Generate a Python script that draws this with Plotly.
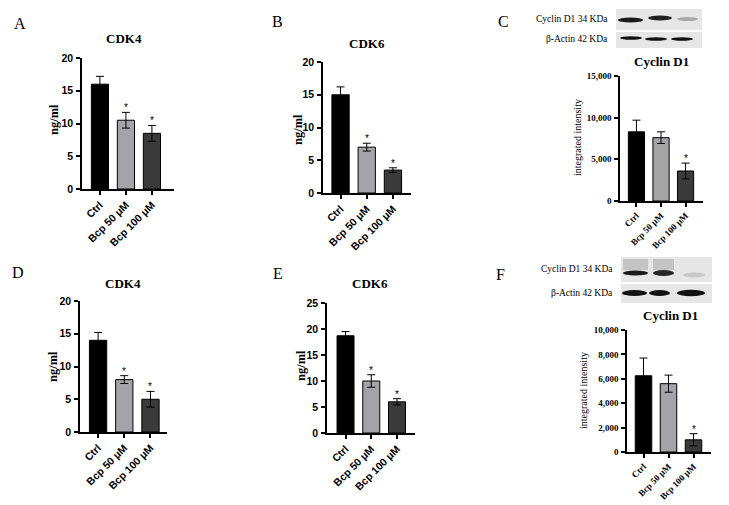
import plotly.graph_objects as go

# ---------------- data ----------------
categories = ["Ctrl", "Bcp 50 μM", "Bcp 100 μM"]

a_values = [16.0, 10.5, 8.5]
a_errors = [1.2, 1.2, 1.2]
a_stars = ["", "*", "*"]

b_values = [15.0, 7.0, 3.5]
b_errors = [1.2, 0.6, 0.35]
b_stars = ["", "*", "*"]

c_values = [8300, 7600, 3600]
c_errors = [1400, 700, 950]
c_stars = ["", "", "*"]

d_values = [14.0, 8.0, 5.0]
d_errors = [1.2, 0.6, 1.2]
d_stars = ["", "*", "*"]

e_values = [18.7, 10.0, 6.0]
e_errors = [0.8, 1.2, 0.6]
e_stars = ["", "*", "*"]

f_values = [6250, 5600, 1000]
f_errors = [1450, 700, 500]
f_stars = ["", "", "*"]

bar_colors = ["#000000", "#a4a4a8", "#3a3a3a"]

# ---------------- layout helpers ----------------
W, H = 729, 505
SANS = "Arial, Liberation Sans, sans-serif"
SERIF = "Times New Roman, Liberation Serif, serif"


def px(x):
    return x / W


def py(y):
    return 1 - y / H


panels = [
    dict(vals=a_values, err=a_errors, stars=a_stars, xd=(82, 174), yd=(58, 189), ymax=20, dtick=5,
         rng=(-0.69, 2.85), sans=True, title="CDK4", tpos=(124, 39), letter="A", lpos=(20, 23),
         ytitle="ng/ml", ytpos=(54, 120)),
    dict(vals=b_values, err=b_errors, stars=b_stars, xd=(323, 411), yd=(62, 193), ymax=20, dtick=5,
         rng=(-0.67, 2.69), sans=True, title="CDK6", tpos=(367, 44), letter="B", lpos=(277, 21),
         ytitle="ng/ml", ytpos=(298, 130)),
    dict(vals=c_values, err=c_errors, stars=c_stars, xd=(620, 703), yd=(76, 201), ymax=15000, dtick=5000,
         rng=(-0.67, 2.71), sans=False, title="Cyclin D1", tpos=(661, 61), letter="C", lpos=(503, 21),
         ytitle="integrated intensity", ytpos=(577, 138)),
    dict(vals=d_values, err=d_errors, stars=d_stars, xd=(80, 167), yd=(301, 432), ymax=20, dtick=5,
         rng=(-0.69, 2.63), sans=True, title="CDK4", tpos=(123, 283), letter="D", lpos=(18, 272),
         ytitle="ng/ml", ytpos=(53, 367)),
    dict(vals=e_values, err=e_errors, stars=e_stars, xd=(327, 415), yd=(303, 433), ymax=25, dtick=5,
         rng=(-0.72, 2.70), sans=True, title="CDK6", tpos=(370, 283), letter="E", lpos=(278, 273),
         ytitle="ng/ml", ytpos=(301, 366)),
    dict(vals=f_values, err=f_errors, stars=f_stars, xd=(627, 711), yd=(330, 452), ymax=10000, dtick=2000,
         rng=(-0.66, 2.70), sans=False, title="Cyclin D1", tpos=(670, 315), letter="F", lpos=(500, 274),
         ytitle="integrated intensity", ytpos=(583, 391)),
]

fig = go.Figure()
annotations = []
layout_axes = {}

for i, p in enumerate(panels, start=1):
    xa = "x" if i == 1 else f"x{i}"
    ya = "y" if i == 1 else f"y{i}"
    fig.add_trace(go.Bar(
        x=categories, y=p["vals"], xaxis=xa, yaxis=ya,
        marker=dict(color=bar_colors, line=dict(color="black", width=1)),
        width=0.66,
        error_y=dict(type="data", array=p["err"], color="black", thickness=1, width=4),
        showlegend=False, hoverinfo="x+y",
    ))
    if p["sans"]:
        tfont = dict(family=SANS, size=10.5, color="black", weight="bold")
    else:
        tfont = dict(family=SERIF, size=9, color="black", weight="bold")
    axis_common = dict(showline=True, linecolor="black", linewidth=1.5, ticks="outside",
                       ticklen=4, tickwidth=1.5, tickcolor="black", showgrid=False,
                       zeroline=False, tickfont=tfont, fixedrange=True, automargin=False)
    layout_axes["xaxis" if i == 1 else f"xaxis{i}"] = dict(
        domain=[px(p["xd"][0]), px(p["xd"][1])], anchor=ya, type="category",
        range=list(p["rng"]), tickangle=-45, **axis_common)
    layout_axes["yaxis" if i == 1 else f"yaxis{i}"] = dict(
        domain=[py(p["yd"][1]), py(p["yd"][0])], anchor=xa, range=[0, p["ymax"]],
        dtick=p["dtick"], tickformat="," if not p["sans"] else "", ticklabelstandoff=1,
        **axis_common)

    # significance stars
    for c, v, e, s in zip(categories, p["vals"], p["err"], p["stars"]):
        if s:
            annotations.append(dict(x=c, y=v + e, xref=xa, yref=ya, text=s, showarrow=False,
                                    yanchor="bottom", yshift=-3,
                                    font=dict(family=SANS, size=10, color="black")))
    # panel title
    annotations.append(dict(x=px(p["tpos"][0]), y=py(p["tpos"][1]), xref="paper", yref="paper",
                            text=p["title"], showarrow=False, xanchor="center", yanchor="middle",
                            font=dict(family=SERIF, size=13, color="black", weight="bold")))
    # panel letter
    annotations.append(dict(x=px(p["lpos"][0]), y=py(p["lpos"][1]), xref="paper", yref="paper",
                            text=p["letter"], showarrow=False, xanchor="center", yanchor="middle",
                            font=dict(family=SERIF, size=16, color="black")))
    # y-axis title
    if p["sans"]:
        yfont = dict(family=SERIF, size=12.5, color="black", weight="bold")
    else:
        yfont = dict(family=SERIF, size=10, color="black")
    annotations.append(dict(x=px(p["ytpos"][0]), y=py(p["ytpos"][1]), xref="paper", yref="paper",
                            text=p["ytitle"], showarrow=False, textangle=-90,
                            xanchor="center", yanchor="middle", font=yfont))

# ---------------- western blot strips (decoration) ----------------
shapes = []
blots = [
    dict(x0=616, x1=702, r1=(9, 30), r2=(32, 48), lx=610, ly=(19, 39),
         b1=[(618, 643, 20, "#1a1a1a", 5), (648, 672, 18, "#202020", 5), (677, 698, 19, "#a8a8a8", 4)],
         b2=[(620, 642, 38, "#111111", 3.5), (645, 667, 39, "#111111", 3.5), (671, 693, 39, "#111111", 3.5)]),
    dict(x0=621, x1=712, r1=(257, 282), r2=(284, 303), lx=615, ly=(269, 293),
         b1=[(623, 648, 273, "#1a1a1a", 5), (653, 674, 273, "#252525", 6), (683, 705, 275, "#c8c8c8", 5)],
         b2=[(622, 647, 293, "#111111", 6), (649, 670, 293, "#111111", 6), (677, 705, 293, "#111111", 6.5)]),
]
for b in blots:
    for (y0, y1) in (b["r1"], b["r2"]):
        shapes.append(dict(type="rect", xref="paper", yref="paper", x0=px(b["x0"]), x1=px(b["x1"]),
                           y0=py(y1), y1=py(y0), fillcolor="#e6e6e6", line=dict(width=0), layer="below"))
    for (x0, x1, yc, col, th) in b["b1"] + b["b2"]:
        shapes.append(dict(type="circle", xref="paper", yref="paper", x0=px(x0), x1=px(x1),
                           y0=py(yc + th / 2), y1=py(yc - th / 2), fillcolor=col, line=dict(width=0)))
    for txt, ly in zip(["Cyclin D1 34 KDa", "β-Actin 42 KDa"], b["ly"]):
        annotations.append(dict(x=px(b["lx"]), y=py(ly), xref="paper", yref="paper", text=txt,
                                showarrow=False, xanchor="right", yanchor="middle",
                                font=dict(family=SERIF, size=9.5, color="black")))
# faint smear above Cyclin D1 bands in F
for (x0, x1) in [(623, 648), (653, 674)]:
    shapes.append(dict(type="rect", xref="paper", yref="paper", x0=px(x0), x1=px(x1),
                       y0=py(270), y1=py(259), fillcolor="rgba(120,120,120,0.3)", line=dict(width=0)))

fig.update_layout(
    width=W, height=H, margin=dict(l=0, r=0, t=0, b=0),
    paper_bgcolor="white", plot_bgcolor="white",
    annotations=annotations, shapes=shapes, bargap=0.3,
    **layout_axes,
)

fig.write_html(
    "out.html",
    config={"displayModeBar": False},
    post_script="document.body.style.margin='0';document.body.style.overflow='hidden';",
)
